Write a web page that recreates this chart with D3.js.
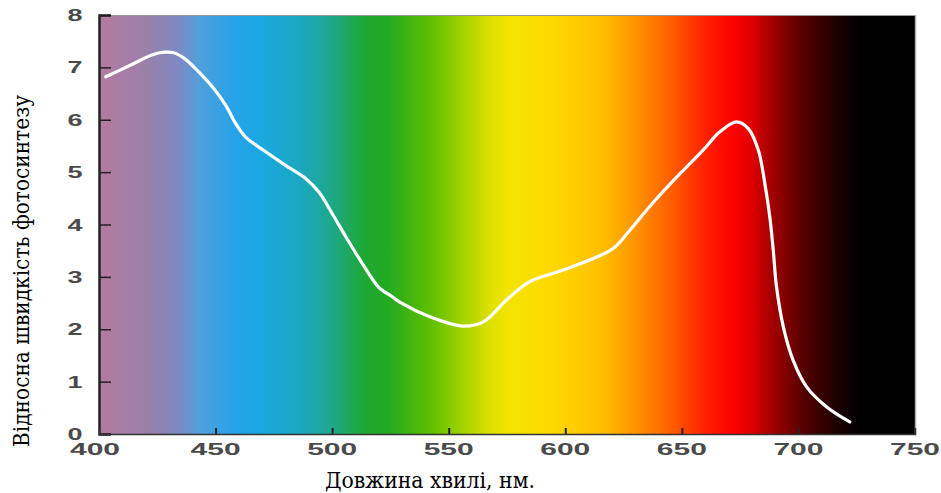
<!DOCTYPE html>
<html><head><meta charset="utf-8">
<script src="https://cdn.jsdelivr.net/npm/d3@7"></script>
<style>body{margin:0;background:#fff}</style>
</head><body>
<script>
const wavelength = [402.9,414.3,422.9,428,432,436,439,442,448.6,454.3,458.6,462.9,471.5,480,488.6,494.3,500,505.8,512.9,520,525.8,529,541.9,556.2,564.8,574.8,584.8,599.1,612,620.5,627.7,637.7,649.2,659.1,666.3,673.5,678.5,682.8,685.6,687.7,689.2,690.6,693.5,697.7,703.5,712,722];
const rate = [6.82,7.06,7.24,7.29,7.28,7.19,7.08,6.95,6.63,6.28,5.93,5.67,5.39,5.13,4.88,4.62,4.21,3.77,3.26,2.80,2.62,2.52,2.24,2.06,2.14,2.56,2.91,3.13,3.35,3.54,3.89,4.42,4.97,5.42,5.77,5.96,5.83,5.42,4.78,4.15,3.51,2.81,2.05,1.41,0.90,0.52,0.23];
const xTicks = [400,450,500,550,600,650,700,750];
const yTicks = [0,1,2,3,4,5,6,7,8];
const xTitle = "Довжина хвилі, нм.";
const yTitle = "Відносна швидкість фотосинтезу";
const spectrumNm = [400,421,435,443,457,469,486,500,514,524,543,557,568,576,595,617,631,645,660,672,680,688,703,717,726,750];
const spectrumColor = ["#b47aa0","#9a80aa","#7a8ac4","#50a0dc","#28a2e8","#1aa8e2","#1aa8c2","#1ea888","#1ea834","#22aa20","#62c000","#a8d400","#e0e000","#f4e400","#ffd800","#ffbc00","#ff9000","#ff6000","#ff2000","#ff0000","#e00000","#a80000","#500000","#1c0000","#000000","#000000"];

const W=941,H=493;
const m={l:99,r:26,t:15,b:59};
const svg=d3.select("body").append("svg").attr("width",W).attr("height",H);
const x=d3.scaleLinear().domain([400,750]).range([m.l,W-m.r]);
const y=d3.scaleLinear().domain([0,8]).range([H-m.b,m.t]);

const grad=svg.append("defs").append("linearGradient").attr("id","spec")
  .attr("gradientUnits","userSpaceOnUse").attr("x1",x(400)).attr("x2",x(750)).attr("y1",0).attr("y2",0);
spectrumNm.forEach((n,i)=>grad.append("stop").attr("offset",(n-400)/350).attr("stop-color",spectrumColor[i]));

svg.append("rect").attr("x",x(400)).attr("y",y(8)).attr("width",x(750)-x(400)).attr("height",y(0)-y(8)).attr("fill","url(#spec)");
svg.append("line").attr("x1",x(400)).attr("x2",x(750)).attr("y1",y(8)+0.5).attr("y2",y(8)+0.5).attr("stroke","#999").attr("stroke-width",1);
svg.append("line").attr("x1",x(750)+0.5).attr("x2",x(750)+0.5).attr("y1",y(8)).attr("y2",y(0)).attr("stroke","#aaa").attr("stroke-width",1.5);

const data=wavelength.map((w,i)=>[w,rate[i]]);
svg.append("path").datum(data).attr("fill","none").attr("stroke","#fff").attr("stroke-width",3.2)
  .attr("stroke-linecap","round").attr("stroke-linejoin","round")
  .attr("d",d3.line().x(d=>x(d[0])).y(d=>y(d[1])).curve(d3.curveCatmullRom.alpha(0.5)));

const yAx=svg.append("g").attr("transform",`translate(${x(400)},0)`)
  .call(d3.axisRight(y).tickValues(yTicks).tickSize(12).tickFormat(""));
yAx.select(".domain").attr("stroke","#222").attr("stroke-width",2.5);
yAx.selectAll(".tick line").attr("stroke","#222").attr("stroke-width",1.5);
const xAx=svg.append("g").attr("transform",`translate(0,${y(0)})`)
  .call(d3.axisTop(x).tickValues(xTicks.slice(1,-1)).tickSize(6).tickFormat(""));
xAx.select(".domain").attr("stroke","#333").attr("stroke-width",1.5);
xAx.selectAll(".tick line").attr("stroke","#222").attr("stroke-width",2);

const lblFont="Liberation Sans, Arial, sans-serif";
svg.append("g").selectAll("text").data(yTicks).join("text")
  .attr("x",75).attr("y",d=>y(d)+6).attr("text-anchor","middle")
  .attr("font-family",lblFont).attr("font-weight","bold").attr("font-size",16).attr("fill","#4a4a4a")
  .attr("textLength",15).attr("lengthAdjust","spacingAndGlyphs").text(d=>d);
svg.append("g").selectAll("text").data(xTicks).join("text")
  .attr("x",d=>x(d)+(d===400?-4:0)).attr("y",y(0)+21).attr("text-anchor","middle")
  .attr("font-family",lblFont).attr("font-weight","bold").attr("font-size",16).attr("fill","#4a4a4a")
  .attr("textLength",50).attr("lengthAdjust","spacingAndGlyphs").text(d=>d);

const serif="'DejaVu Serif', serif";
svg.append("text").attr("x",430).attr("y",488).attr("text-anchor","middle")
  .attr("font-family",serif).attr("font-size",22).attr("fill","#000")
  .attr("textLength",210).attr("lengthAdjust","spacingAndGlyphs").text(xTitle);
svg.append("text").attr("transform","translate(29,271) rotate(-90)").attr("text-anchor","middle")
  .attr("font-family",serif).attr("font-size",22).attr("fill","#000")
  .attr("textLength",352).attr("lengthAdjust","spacingAndGlyphs").text(yTitle);
</script>
</body></html>
